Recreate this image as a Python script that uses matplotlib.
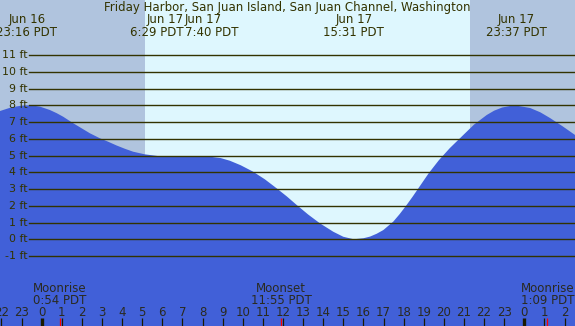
import matplotlib
matplotlib.use('Agg')
import matplotlib.pyplot as plt

# Tide curve (hours after Jun 17 00:00 PDT, feet)
hours = [-2.07, -1.5, -1.0, -0.73, -0.4, -0.08, 0.41, 0.75, 1.07, 1.57, 2.0, 2.40,
         2.90, 3.30, 3.73, 4.15, 4.55, 5.14, 5.78, 6.48, 7.08, 7.67, 8.37, 8.90,
         9.36, 9.90, 10.51, 11.10, 11.69, 12.20, 12.68, 13.25, 13.84, 14.50,
         15.00, 15.52, 16.00, 16.33, 16.66, 16.99, 17.48, 17.80, 18.15, 18.45,
         18.73, 19.25, 19.75, 20.30, 20.96, 21.50, 22.13, 22.50, 22.90, 23.30,
         23.62, 24.29, 24.80, 25.28, 25.90, 26.52]
heights = [7.66, 7.88, 7.98, 8.00, 7.98, 7.92, 7.72, 7.53, 7.32, 6.93, 6.62, 6.33,
           6.03, 5.83, 5.60, 5.40, 5.23, 5.07, 4.97, 4.92, 4.93, 4.95, 4.93, 4.85,
           4.69, 4.42, 4.04, 3.58, 3.04, 2.55, 2.05, 1.48, 0.95, 0.45,
           0.15, 0.00, 0.06, 0.16, 0.33, 0.55, 1.05, 1.50, 2.05, 2.55,
           3.04, 3.95, 4.72, 5.45, 6.22, 6.85, 7.42, 7.68, 7.87, 7.96,
           7.98, 7.84, 7.58, 7.24, 6.75, 6.23]

# Tide extremes labelled on top
extreme_hours = [-0.73, 6.48, 7.67, 15.52, 23.62]
extreme_dates = ['Jun 16', 'Jun 17', 'Jun 17', 'Jun 17', 'Jun 17']
extreme_times = ['23:16 PDT', '6:29 PDT', '7:40 PDT', '15:31 PDT', '23:37 PDT']

# Moon events
moon_hours = [0.90, 11.92, 25.15]
moon_names = ['Moonrise', 'Moonset', 'Moonrise']
moon_times = ['0:54 PDT', '11:55 PDT', '1:09 PDT']

sunrise = 5.14
sunset = 21.30
grid_ft = list(range(-1, 12))
tick_hours = list(range(-2, 27))

title = 'Friday Harbor, San Juan Island, San Juan Channel, Washington'

night = '#b0c4de'
day = '#def7fe'
water = '#4160d8'
ink = '#333300'
fs = 8.5

fig = plt.figure(figsize=(5.75, 3.26), dpi=100)
ax = fig.add_axes([0, 0, 1, 1])
x0, x1 = -2.07, 26.52
ax.set_xlim(x0, x1)
ax.set_ylim(-5.18, 14.29)
ax.axis('off')

# sky
ax.axvspan(x0, sunrise, color=night, lw=0, zorder=0)
ax.axvspan(sunrise, sunset, color=day, lw=0, zorder=0)
ax.axvspan(sunset, x1, color=night, lw=0, zorder=0)

# water
ax.fill_between(hours, heights, -10, color=water, lw=0, zorder=1)

# height lines
for ft in grid_ft:
    ax.axhline(ft, xmin=0.0504, xmax=1, color=ink, lw=1.0, zorder=2)
    ax.text(-0.72, ft, '%d ft' % ft, ha='right', va='center', fontsize=7.9,
            color=ink, zorder=3)

# title and extreme labels
fig.text(0.5, 1 - 8 / 326, title, ha='center', va='center', fontsize=fs, color=ink)
trans = ax.get_xaxis_transform()
for i, (h, d, t) in enumerate(zip(extreme_hours, extreme_dates, extreme_times)):
    ha = 'center'
    xpos = h
    if i == 1:
        xpos = (extreme_hours[1] + extreme_hours[2]) / 2
        ha = 'right'
    elif i == 2:
        xpos = (extreme_hours[1] + extreme_hours[2]) / 2 + 0.03
        ha = 'left'
    ax.text(xpos, 1 - 19.5 / 326, d, ha=ha, va='center', fontsize=fs,
            color=ink, transform=trans)
    ax.text(xpos, 1 - 32 / 326, t, ha=ha, va='center', fontsize=fs,
            color=ink, transform=trans)

# hour ticks along the bottom
for h in tick_hours:
    midnight = h % 24 == 0
    ax.vlines(h, 0, 8 / 326, color='#1a1a00', lw=2.4 if midnight else 0.9,
              transform=trans, zorder=4)
    ax.text(h, 14 / 326, str(h % 24), ha='center', va='center', fontsize=fs,
            color='#2a2a20', transform=trans, zorder=4)

# moon events
for h, n, t in zip(moon_hours, moon_names, moon_times):
    ax.vlines(h, 0, 8 / 326, color='red', lw=0.9, transform=trans, zorder=5)
    ax.text(h, 38 / 326, n, ha='center', va='center', fontsize=fs,
            color='#2a2a20', transform=trans, zorder=4)
    ax.text(h, 26 / 326, t, ha='center', va='center', fontsize=fs,
            color='#2a2a20', transform=trans, zorder=4)

fig.savefig('out.png', dpi=100)
